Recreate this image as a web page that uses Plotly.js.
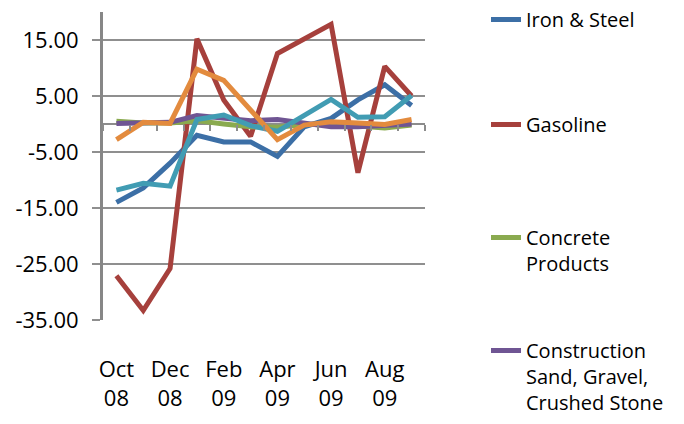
<!DOCTYPE html>
<html>
<head>
<meta charset="utf-8">
<script src="https://cdn.plot.ly/plotly-3.0.1.min.js"></script>
<style>
html,body{margin:0;padding:0;background:#fff;}
#chart{width:684px;height:424px;}
</style>
</head>
<body>
<div id="chart"></div>
<script>
// Categories (months)
var months = ["Oct 08","Nov 08","Dec 08","Jan 09","Feb 09","Mar 09","Apr 09","May 09","Jun 09","Jul 09","Aug 09","Sep 09"];
var xTickVals = ["Oct 08","Dec 08","Feb 09","Apr 09","Jun 09","Aug 09"];
var xTickText = ["Oct<br>08","Dec<br>08","Feb<br>09","Apr<br>09","Jun<br>09","Aug<br>09"];
var yTickVals = [-35,-25,-15,-5,5,15];
var yTickText = ["-35.00","-25.00","-15.00","-5.00","5.00","15.00"];

// Series values
var ironSteel    = [-14.0,-11.4,-7.0,-2.0,-3.2,-3.2,-5.8,-0.5,1.0,4.3,7.0,3.3];
var gasoline     = [-27.1,-33.3,-25.8,15.2,4.3,-2.2,12.6,15.3,17.8,-8.7,10.3,5.0];
var concrete     = [0.5,0.2,0.2,0.6,0.0,-0.5,-0.6,-0.1,0.0,-0.3,-0.7,-0.2];
var construction = [0.1,0.3,0.3,1.5,1.0,0.6,0.8,0.1,-0.5,-0.5,-0.3,0.0];
var series5      = [-11.8,-10.6,-11.1,0.8,1.6,-0.3,-1.3,1.5,4.4,1.2,1.3,5.1];
var series6      = [-2.8,0.3,0.1,9.8,7.8,2.4,-2.8,-0.2,0.4,0.2,-0.1,0.8];

var names = ["Iron & Steel","Gasoline","Concrete<br>Products","Construction<br>Sand, Gravel,<br>Crushed Stone","Series 5","Series 6"];
var colors = ["#3C6FA6","#A6403C","#8AAA4F","#6F5593","#419CB3","#E38B3E"];
var values = [ironSteel,gasoline,concrete,construction,series5,series6];
var legends = ["legend","legend2","legend3","legend4",null,null];

var FONT = "Open Sans, Liberation Sans, Arial, sans-serif";

var traces = values.map(function(v,i){
  var t = {
    type:"scatter", mode:"lines", x:months, y:v, name:names[i],
    line:{color:colors[i], width:5},
    hoverinfo:"x+y+name",
    showlegend: legends[i] !== null
  };
  if (legends[i]) t.legend = legends[i];
  return t;
});
// invisible helper trace for the tick-mark axis at y = 0
traces.push({type:"scatter", mode:"lines", x:months, y:ironSteel, xaxis:"x2",
  line:{width:0, color:"rgba(0,0,0,0)"}, opacity:0, hoverinfo:"skip", showlegend:false});

function legendAt(top){
  return {
    xref:"container", yref:"paper", x:486/684, y:1-(top-12)/308,
    xanchor:"left", yanchor:"top", bgcolor:"rgba(0,0,0,0)",
    font:{family:FONT, size:20, color:"#000"}, valign:"top",
    itemclick:false, itemdoubleclick:false
  };
}

var layout = {
  width:684, height:424,
  margin:{l:103, r:259, t:12, b:104},
  paper_bgcolor:"#fff", plot_bgcolor:"#fff",
  font:{family:FONT, size:22, color:"#000"},
  xaxis:{
    type:"category", range:[-0.5,11.5], categoryorder:"array", categoryarray:months,
    tickmode:"array", tickvals:xTickVals, ticktext:xTickText,
    showgrid:false, showline:false, zeroline:false, ticks:"",
    ticklabelstandoff:34, tickfont:{family:FONT, size:22, color:"#000"}
  },
  xaxis2:{
    type:"category", range:[-0.5,11.5], categoryorder:"array", categoryarray:months,
    overlaying:"x", anchor:"free", position:35/55, side:"bottom",
    tickmode:"array", tickvals:months, tickson:"boundaries",
    ticks:"outside", ticklen:6, tickwidth:2, tickcolor:"#8c8c8c",
    showticklabels:false, showgrid:false, showline:false, zeroline:false
  },
  yaxis:{
    range:[-35,20], tickmode:"array", tickvals:yTickVals, ticktext:yTickText,
    showgrid:true, gridcolor:"#8f8f8f", gridwidth:2,
    showline:true, linecolor:"#878787", linewidth:3,
    ticks:"outside", ticklen:8, tickwidth:2, tickcolor:"#8f8f8f",
    zeroline:true, zerolinecolor:"#8c8c8c", zerolinewidth:2,
    ticklabelstandoff:9, tickfont:{family:FONT, size:22, color:"#000"}
  },
  legend:legendAt(-8),
  legend2:legendAt(105),
  legend3:legendAt(218),
  legend4:legendAt(331),
  showlegend:true
};

Plotly.newPlot("chart", traces, layout, {displayModeBar:false, staticPlot:true});
</script>
</body>
</html>
